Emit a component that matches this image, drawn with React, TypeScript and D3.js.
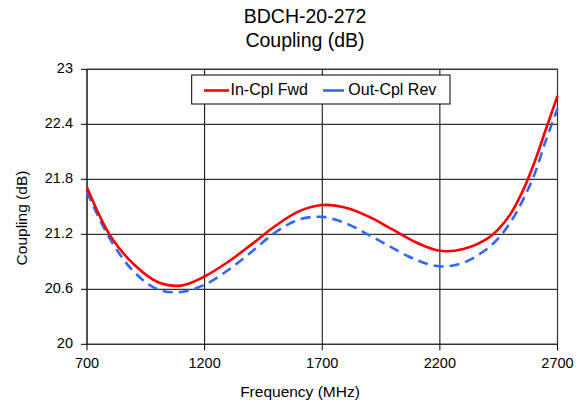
import React from "react";
import * as d3 from "d3";

const freqs = [700, 800, 900, 1000, 1100, 1200, 1300, 1400, 1500, 1600, 1700, 1800, 1900, 2000, 2100, 2200, 2300, 2400, 2450, 2500, 2550, 2600, 2650, 2700];
const inCplFwd = [21.71, 21.18, 20.87, 20.68, 20.64, 20.74, 20.9, 21.09, 21.29, 21.45, 21.52, 21.49, 21.39, 21.25, 21.11, 21.02, 21.04, 21.15, 21.26, 21.42, 21.66, 21.97, 22.34, 22.71];
const outCplRev = [21.66, 21.14, 20.79, 20.6, 20.57, 20.65, 20.81, 21.01, 21.22, 21.36, 21.39, 21.32, 21.19, 21.05, 20.92, 20.85, 20.89, 21.04, 21.16, 21.33, 21.56, 21.84, 22.22, 22.57];
const xTicks = [700, 1200, 1700, 2200, 2700];
const yTicks = [20, 20.6, 21.2, 21.8, 22.4, 23];
const yTickLabels = ["20", "20.6", "21.2", "21.8", "22.4", "23"];
const seriesNames = ["In-Cpl Fwd", "Out-Cpl Rev"];
const titleLines = ["BDCH-20-272", "Coupling (dB)"];
const xTitle = "Frequency (MHz)";
const yTitle = "Coupling (dB)";

const W = 582;
const H = 403;
const left = 87;
const right = 557.5;
const top = 69.3;
const bottom = 344.3;
const font = "'Liberation Sans', Arial, sans-serif";

export default function App() {
  const x = d3.scaleLinear().domain([700, 2700]).range([left, right]);
  const y = d3.scaleLinear().domain([20, 23]).range([bottom, top]);
  const line = d3
    .line<number>()
    .x((_, i) => x(freqs[i]))
    .y((v) => y(v))
    .curve(d3.curveCatmullRom.alpha(0.5));

  return (
    <svg
      width={W}
      height={H}
      style={{ position: "absolute", left: 0, top: 0, background: "#fff" }}
      fontFamily={font}
    >
      <rect x={0} y={0} width={W} height={H} fill="#fff" />
      {titleLines.map((t, i) => (
        <text key={t} x={305} y={18 + i * 24} textAnchor="middle" dominantBaseline="middle" fontSize={19.5} fill="#000">
          {t}
        </text>
      ))}
      {yTicks.map((v) => (
        <line key={"gy" + v} x1={left} x2={right} y1={y(v)} y2={y(v)} stroke="#000" strokeWidth={1} />
      ))}
      {xTicks.map((v) => (
        <line key={"gx" + v} x1={x(v)} x2={x(v)} y1={top} y2={bottom} stroke="#000" strokeWidth={1} />
      ))}
      <rect x={left} y={top} width={right - left} height={bottom - top} fill="none" stroke="#333" strokeWidth={1.2} />
      {yTicks.map((v, i) => (
        <g key={"ty" + v}>
          <line x1={left - 6} x2={left} y1={y(v)} y2={y(v)} stroke="#000" />
          <text x={left - 14} y={y(v)} textAnchor="end" dominantBaseline="middle" fontSize={14.5} fill="#000">
            {yTickLabels[i]}
          </text>
        </g>
      ))}
      {xTicks.map((v) => (
        <g key={"tx" + v}>
          <line x1={x(v)} x2={x(v)} y1={bottom} y2={bottom + 6} stroke="#000" />
          <text x={x(v)} y={364} textAnchor="middle" dominantBaseline="middle" fontSize={14.5} fill="#000">
            {v}
          </text>
        </g>
      ))}
      <text x={300} y={393} textAnchor="middle" dominantBaseline="middle" fontSize={15.5} fill="#000">
        {xTitle}
      </text>
      <text
        transform={`translate(23,218) rotate(-90)`}
        textAnchor="middle"
        dominantBaseline="middle"
        fontSize={15.5}
        fill="#000"
      >
        {yTitle}
      </text>
      <path d={line(outCplRev) || ""} fill="none" stroke="#3366FF" strokeWidth={2.6} strokeDasharray="10,6" />
      <path d={line(inCplFwd) || ""} fill="none" stroke="#FF0000" strokeWidth={2.6} />
      <rect x={191.7} y={75} width={258.3} height={29} fill="#fff" stroke="#000" strokeWidth={1} />
      <line x1={204} x2={229} y1={90.5} y2={90.5} stroke="#FF0000" strokeWidth={2.6} />
      <text x={230.5} y={90.5} dominantBaseline="middle" fontSize={16} fill="#000">
        {seriesNames[0]}
      </text>
      <line x1={323} x2={344} y1={90.5} y2={90.5} stroke="#3366FF" strokeWidth={2.6} />
      <text x={348.3} y={90.5} dominantBaseline="middle" fontSize={16} fill="#000">
        {seriesNames[1]}
      </text>
    </svg>
  );
}
